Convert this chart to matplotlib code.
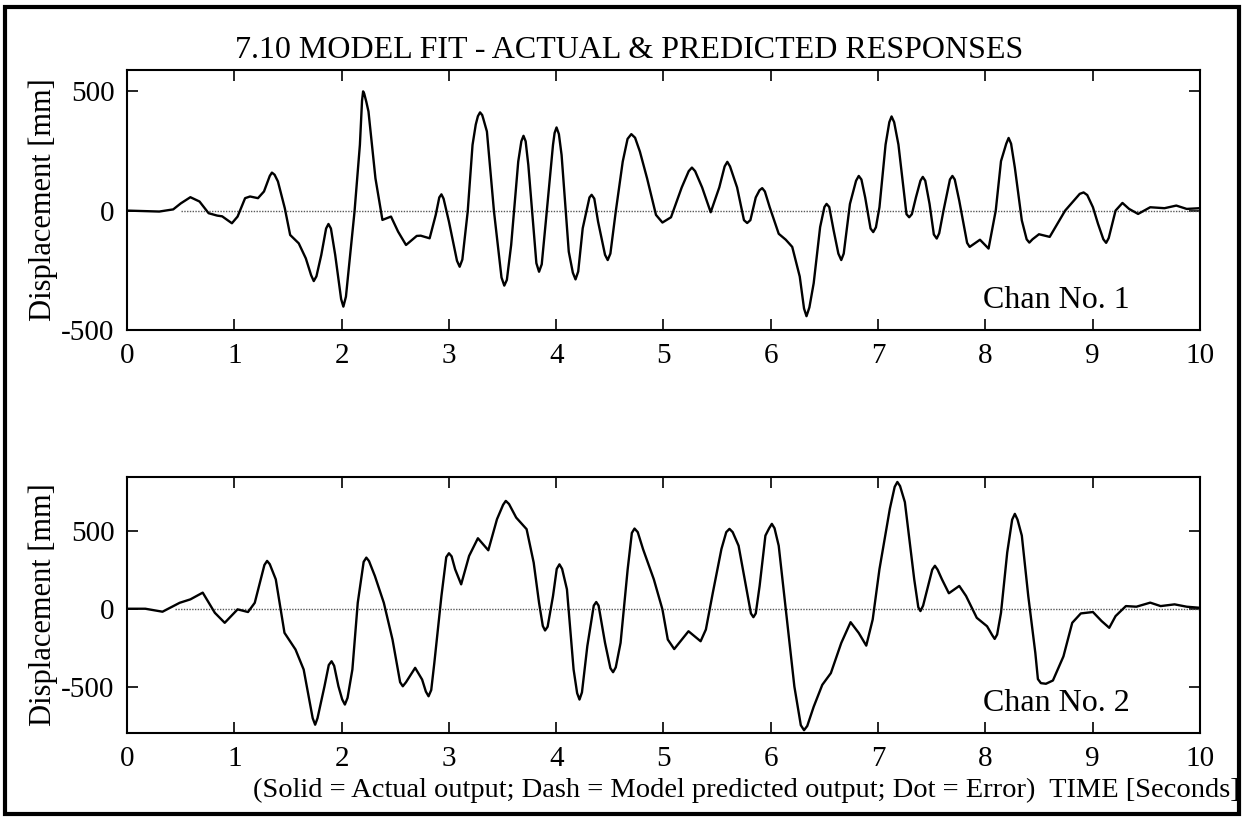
import numpy as np
import matplotlib.pyplot as plt
from matplotlib.patches import Rectangle

# Chan 1 : actual displacement (time [s], mm)
t1 = [0.0, 0.30, 0.43, 0.50, 0.59, 0.675, 0.76, 0.84, 0.886, 0.977, 1.03, 1.10, 1.146, 1.22, 1.276,
      1.35, 1.406, 1.47, 1.52, 1.60, 1.666, 1.74, 1.81, 1.877, 1.94, 2.016, 2.07, 2.12, 2.17, 2.20,
      2.25, 2.315, 2.38, 2.46, 2.526, 2.60, 2.70, 2.737, 2.82, 2.877, 2.93, 3.0, 3.10, 3.175, 3.22,
      3.29, 3.354, 3.42, 3.516, 3.58, 3.646, 3.695, 3.74, 3.84, 3.906, 3.97, 4.003, 4.05, 4.117,
      4.18, 4.247, 4.33, 4.39, 4.48, 4.555, 4.62, 4.70, 4.78, 4.847, 4.93, 4.99, 5.07, 5.17, 5.265,
      5.36, 5.44, 5.52, 5.595, 5.686, 5.78, 5.86, 5.92, 5.99, 6.074, 6.14, 6.20, 6.27, 6.333, 6.40,
      6.46, 6.52, 6.586, 6.657, 6.738, 6.82, 6.88, 6.955, 7.013, 7.07, 7.126, 7.19, 7.29, 7.353,
      7.417, 7.48, 7.547, 7.61, 7.693, 7.757, 7.854, 7.95, 8.03, 8.097, 8.146, 8.217, 8.275, 8.34,
      8.41, 8.50, 8.60, 8.744, 8.916, 9.003, 9.05, 9.126, 9.214, 9.278, 9.34, 9.424, 9.537, 9.67,
      9.78, 9.877, 10.0]
y1 = [0, -4, 5, 30, 56, 38, -11, -21, -24, -53, -25, 52, 59, 52, 80,
      159, 122, 10, -102, -137, -200, -295, -186, -56, -186, -402, -228, -4, 275, 499,
      415, 135, -39, -25, -88, -144, -106, -105, -116, -18, 68, -46, -235, -4, 275,
      411, 331, -4, -314, -144, 205, 313, 191, -256, -32, 275, 348, 233, -172,
      -288, -74, 66, -46, -207, -4, 205, 320, 247, 135, -18, -50, -28, 97, 180,
      97, -7, 97, 204, 97, -52, 55, 94, 14, -97, -122, -152, -276, -442, -304,
      -69, 28, -83, -207, 28, 145, 55, -90, 14, 276, 394, 276, -28, 55,
      141, 28, -117, 0, 145, 41, -152, -122, -159, 0, 207, 304, 180, -41,
      -134, -99, -110, 0, 76, 14, -55, -135, 0, 32, 7, -14, 14, 10,
      21, 7, 10]
# extra readings around the rounded peaks of chan 1
t1_pk = [1.33, 1.375, 1.715, 1.765, 1.855, 1.90, 1.995, 2.04, 2.19, 2.21, 2.23, 2.91, 2.95,
         3.075, 3.125, 3.25, 3.27, 3.31, 3.32, 3.49, 3.54, 3.675, 3.715, 3.815, 3.865, 3.985,
         4.025, 4.155, 4.205, 4.31, 4.355, 4.455, 4.505, 4.665, 4.735, 5.235, 5.295, 5.57, 5.62,
         5.75, 5.81, 5.895, 5.945, 6.31, 6.36, 6.50, 6.545, 6.63, 6.68, 6.795, 6.845, 6.93, 6.98,
         7.105, 7.15, 7.265, 7.315, 7.395, 7.44, 7.52, 7.57, 7.67, 7.715, 7.83, 8.195, 8.24,
         8.385, 8.44, 8.88, 8.95, 9.10, 9.15]
y1_pk = [145, 150, -270, -275, -75, -75, -370, -360, 460, 490, 455, 55, 50,
         -210, -205, 360, 395, 400, 385, -280, -290, 290, 290, -220, -225, 325,
         320, -260, -255, 55, 50, -185, -180, 300, 305, 165, 165, 185, 185,
         -40, -40, 85, 80, -410, -405, 15, 15, -180, -180, 125, 130, -75, -70,
         370, 370, -15, -15, 125, 125, -100, -95, 130, 130, -135, 280, 280,
         -120, -120, 70, 65, -120, -115]

# Chan 2 : actual displacement
t2 = [0.0, 0.17, 0.33, 0.49, 0.59, 0.705, 0.818, 0.91, 1.03, 1.127, 1.19, 1.305, 1.386, 1.467,
      1.57, 1.646, 1.753, 1.84, 1.906, 1.97, 2.03, 2.10, 2.15, 2.23, 2.31, 2.393, 2.474, 2.57,
      2.685, 2.75, 2.81, 2.864, 2.93, 3.0, 3.058, 3.114, 3.188, 3.27, 3.367, 3.448, 3.53, 3.627,
      3.724, 3.79, 3.84, 3.896, 3.97, 4.03, 4.10, 4.162, 4.217, 4.29, 4.373, 4.455, 4.53, 4.60,
      4.666, 4.73, 4.81, 4.91, 4.99, 5.04, 5.10, 5.233, 5.346, 5.395, 5.46, 5.54, 5.615, 5.70,
      5.78, 5.838, 5.896, 5.95, 6.01, 6.074, 6.14, 6.22, 6.31, 6.40, 6.48, 6.56, 6.657, 6.744,
      6.82, 6.89, 6.95, 7.013, 7.11, 7.18, 7.25, 7.337, 7.395, 7.466, 7.53, 7.595, 7.66, 7.757,
      7.82, 7.92, 8.016, 8.087, 8.146, 8.204, 8.275, 8.34, 8.40, 8.466, 8.518, 8.63, 8.728,
      8.81, 8.89, 9.003, 9.084, 9.155, 9.214, 9.31, 9.408, 9.537, 9.634, 9.764, 9.877, 10.0]
y2 = [0, 0, -19, 38, 60, 103, -26, -90, -4, -21, 38, 306, 188, -154,
      -261, -389, -742, -496, -336, -496, -613, -389, 38, 327, 209, 38, -197, -496,
      -378, -453, -560, -346, 81, 355, 252, 156, 338, 451, 374, 573, 690, 583,
      509, 295, 38, -139, 81, 284, 124, -389, -581, -239, 43, -218, -406, -218,
      252, 513, 380, 188, -4, -197, -258, -144, -208, -133, 103, 382, 511, 403,
      103, -54, 146, 468, 543, 403, -4, -498, -777, -627, -487, -412, -219, -86,
      -155, -236, -69, 253, 640, 811, 682, 189, -15, 146, 275, 189, 99, 146,
      82, -58, -112, -193, -26, 360, 607, 468, 82, -283, -476, -459, -305,
      -90, -30, -21, -79, -122, -47, 17, 13, 39, 17, 28, 13, 6]
# extra readings around the rounded peaks of chan 2
t2_pk = [1.28, 1.33, 1.73, 1.775, 1.88, 1.93, 2.005, 2.055, 2.205, 2.255, 2.545, 2.60, 2.785,
         2.835, 2.975, 3.025, 3.505, 3.56, 3.875, 3.92, 4.005, 4.055, 4.195, 4.24, 4.35, 4.395,
         4.505, 4.555, 4.705, 4.76, 5.585, 5.645, 5.815, 5.86, 5.985, 6.035, 6.28, 6.34, 7.155,
         7.205, 7.375, 7.42, 7.505, 7.555, 8.065, 8.11, 8.25, 8.30, 8.49, 8.565]
y2_pk = [280, 285, -700, -700, -360, -365, -580, -570, 300, 305, -470, -470, -530,
         -520, 330, 335, 665, 670, -110, -115, 255, 255, -540, -535, 20, 20,
         -380, -375, 485, 490, 490, 490, -30, -30, 515, 515, -745, -750, 780,
         785, 10, 20, 250, 250, -170, -165, 570, 570, -450, -480]

# model error (dotted) - essentially zero
e1_t = [0.5, 2.5, 5.0, 7.5, 10.0]
e1 = [0, 0, 0, 0, 0]
e2_t = [0.45, 2.5, 5.0, 7.5, 10.0]
e2 = [0, 0, 0, 0, 0]

xticks = list(range(0, 11))


def merge(t, y, tp, yp):
    tt = np.array(t + tp)
    yy = np.array(y + yp)
    o = np.argsort(tt)
    return tt[o], yy[o]


T1, Y1 = merge(t1, y1, t1_pk, y1_pk)
T2, Y2 = merge(t2, y2, t2_pk, y2_pk)

plt.rcParams['font.family'] = 'Liberation Serif'
fig = plt.figure(figsize=(12.46, 8.19), dpi=100)

ax1 = fig.add_axes([0.102, 0.597, 0.861, 0.318])
ax2 = fig.add_axes([0.102, 0.105, 0.861, 0.313])

panels = [(ax1, T1, Y1, e1_t, e1, (-500, 590), 'Chan No. 1'),
          (ax2, T2, Y2, e2_t, e2, (-795, 845), 'Chan No. 2')]

for ax, t, y, et, e, ylim, lab in panels:
    ax.plot(et, e, color='0.35', lw=1.0, ls=(0, (1, 1)))
    ax.plot(t, y, color='black', lw=1.7, solid_joinstyle='round')
    ax.set_xlim(0, 10)
    ax.set_ylim(*ylim)
    ax.set_xticks(xticks)
    ax.set_xticklabels([str(v) for v in xticks])
    ax.set_yticks([-500, 0, 500])
    ax.set_yticklabels(['-500', '0', '500'])
    ax.tick_params(direction='in', length=8, width=1.2, top=True, right=True,
                   labelsize=21, pad=9)
    for s in ax.spines.values():
        s.set_linewidth(1.5)
    ax.set_ylabel('Displacement [mm]', fontsize=22, labelpad=2)
    ax.text(0.798, 0.115, lab, transform=ax.transAxes, fontsize=23, va='center')

fig.text(0.505, 0.938, '7.10 MODEL FIT - ACTUAL & PREDICTED RESPONSES',
         ha='center', va='center', fontsize=23)
fig.text(0.995, 0.035,
         '(Solid = Actual output; Dash = Model predicted output; Dot = Error)  TIME [Seconds]',
         ha='right', va='center', fontsize=20.5)

fig.add_artist(Rectangle((0.004, 0.006), 0.99, 0.985, transform=fig.transFigure,
                         fill=False, lw=3, color='black'))

fig.savefig('out.png', dpi=100)
